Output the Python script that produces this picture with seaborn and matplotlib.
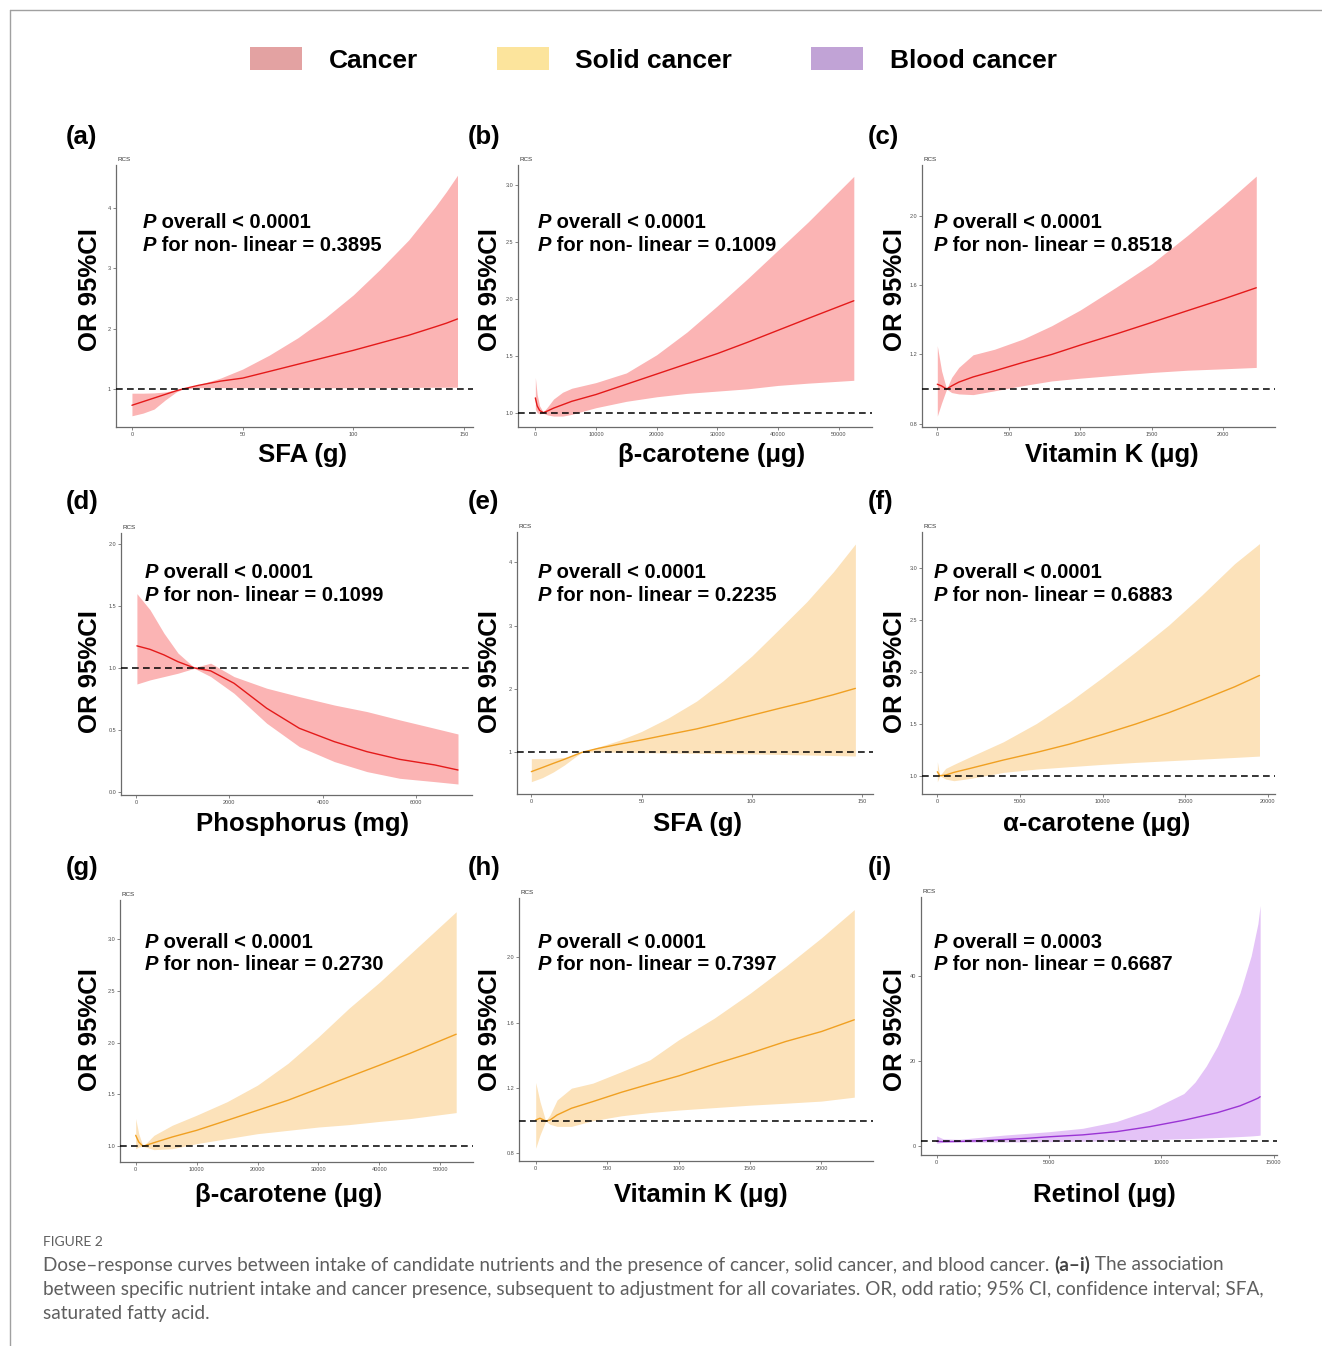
import matplotlib
matplotlib.use("Agg")
import matplotlib.pyplot as plt
from matplotlib.patches import Patch
from matplotlib.lines import Line2D
import seaborn as sns
import pandas as pd

W, H = 1322, 1346

# ---------------- data ----------------
groups = ["Cancer", "Solid cancer", "Blood cancer"]
legend_colors = ["#E3A2A2", "#FCE49C", "#C1A3D6"]
band_colors = ["#FBB4B4", "#FCE2BA", "#E4C3F7"]
line_colors = ["#E41A1A", "#F0A022", "#9A34D4"]

# (a) SFA, cancer
a_x = [0, 5, 10, 15, 20, 23, 30, 40, 50, 62, 75, 87, 100, 112, 125, 137, 142, 147]
a_or = [0.73, 0.79, 0.85, 0.91, 0.97, 1.0, 1.06, 1.13, 1.18, 1.29, 1.41, 1.52, 1.64, 1.76, 1.89, 2.03, 2.09, 2.16]
a_lo = [0.556, 0.60, 0.667, 0.817, 0.95, 1.0, 1.02, 1.022, 1.02, 1.02, 1.02, 1.02, 1.02, 1.022, 1.025, 1.028, 1.029, 1.03]
a_hi = [0.93, 0.93, 0.935, 0.95, 0.985, 1.0, 1.07, 1.18, 1.33, 1.56, 1.85, 2.17, 2.56, 2.98, 3.47, 4.02, 4.27, 4.54]

# (b) beta-carotene, cancer
b_x = [0, 300, 700, 1300, 2000, 3000, 4500, 6000, 8000, 10000, 15000, 20000, 25000, 30000, 35000, 40000, 45000, 52500]
b_or = [1.13, 1.06, 1.02, 1.0, 1.015, 1.04, 1.07, 1.10, 1.13, 1.16, 1.25, 1.34, 1.43, 1.52, 1.62, 1.725, 1.83, 1.985]
b_lo = [1.03, 1.0, 0.99, 0.995, 0.98, 0.97, 0.97, 0.985, 1.015, 1.044, 1.10, 1.14, 1.17, 1.19, 1.21, 1.24, 1.26, 1.285]
b_hi = [1.31, 1.16, 1.06, 1.005, 1.05, 1.12, 1.18, 1.215, 1.24, 1.265, 1.35, 1.51, 1.71, 1.94, 2.18, 2.43, 2.68, 3.08]

# (c) vitamin K, cancer
c_x = [0, 30, 65, 100, 150, 250, 400, 600, 800, 1000, 1250, 1500, 1750, 2000, 2230]
c_or = [1.028, 1.018, 1.0, 1.018, 1.04, 1.07, 1.105, 1.154, 1.20, 1.254, 1.318, 1.385, 1.453, 1.52, 1.585]
c_lo = [0.844, 0.92, 1.0, 0.98, 0.972, 0.968, 0.99, 1.02, 1.047, 1.063, 1.08, 1.096, 1.109, 1.117, 1.125]
c_hi = [1.25, 1.105, 1.0, 1.067, 1.125, 1.198, 1.23, 1.289, 1.366, 1.457, 1.588, 1.724, 1.888, 2.062, 2.23]

# (d) phosphorus, cancer
d_x = [20, 300, 600, 900, 1250, 1600, 2100, 2800, 3500, 4250, 4950, 5650, 6400, 6900]
d_or = [1.178, 1.15, 1.105, 1.05, 1.0, 0.976, 0.876, 0.674, 0.512, 0.404, 0.323, 0.261, 0.216, 0.175]
d_lo = [0.87, 0.903, 0.93, 0.957, 0.997, 0.93, 0.795, 0.553, 0.364, 0.243, 0.162, 0.108, 0.081, 0.062]
d_hi = [1.60, 1.47, 1.28, 1.12, 1.003, 1.038, 0.93, 0.836, 0.768, 0.70, 0.647, 0.58, 0.512, 0.466]

# (e) SFA, solid cancer
e_x = [0, 5, 10, 15, 20, 23, 30, 40, 50, 62, 75, 87, 100, 112, 125, 137, 147]
e_or = [0.695, 0.76, 0.826, 0.89, 0.96, 1.0, 1.06, 1.13, 1.195, 1.28, 1.37, 1.47, 1.585, 1.69, 1.80, 1.91, 2.01]
e_lo = [0.537, 0.60, 0.69, 0.80, 0.93, 1.0, 1.01, 1.0, 0.995, 0.99, 0.985, 0.98, 0.975, 0.968, 0.958, 0.95, 0.942]
e_hi = [0.90, 0.90, 0.905, 0.92, 0.97, 1.0, 1.08, 1.19, 1.33, 1.54, 1.81, 2.13, 2.52, 2.93, 3.38, 3.85, 4.29]

# (f) alpha-carotene, solid cancer
f_x = [0, 150, 500, 1000, 2000, 4000, 6000, 8000, 10000, 12000, 14000, 16000, 18000, 19500]
f_or = [1.038, 1.0, 1.006, 1.032, 1.071, 1.151, 1.224, 1.304, 1.397, 1.497, 1.606, 1.728, 1.856, 1.965]
f_lo = [0.942, 1.0, 0.968, 0.952, 0.974, 1.032, 1.064, 1.087, 1.109, 1.128, 1.144, 1.16, 1.176, 1.189]
f_hi = [1.135, 1.0, 1.07, 1.109, 1.183, 1.327, 1.503, 1.712, 1.946, 2.192, 2.449, 2.737, 3.042, 3.234]

# (g) beta-carotene, solid cancer
g_x = [0, 500, 1200, 3000, 6000, 10000, 15000, 20000, 25000, 30000, 35000, 40000, 45000, 52600]
g_or = [1.106, 1.042, 1.0, 1.035, 1.09, 1.154, 1.25, 1.347, 1.444, 1.556, 1.669, 1.781, 1.895, 2.08]
g_lo = [0.977, 0.994, 1.0, 0.968, 0.977, 1.026, 1.074, 1.122, 1.154, 1.186, 1.209, 1.24, 1.267, 1.325]
g_hi = [1.267, 1.122, 1.0, 1.106, 1.203, 1.30, 1.43, 1.59, 1.80, 2.055, 2.33, 2.58, 2.85, 3.26]

# (h) vitamin K, solid cancer
h_x = [0, 30, 70, 100, 150, 250, 400, 600, 800, 1000, 1250, 1500, 1750, 2000, 2230]
h_or = [1.004, 1.015, 0.998, 1.004, 1.035, 1.076, 1.117, 1.174, 1.225, 1.274, 1.346, 1.413, 1.485, 1.546, 1.618]
h_lo = [0.831, 0.912, 0.998, 0.978, 0.965, 0.965, 1.0, 1.03, 1.05, 1.065, 1.08, 1.095, 1.107, 1.12, 1.144]
h_hi = [1.234, 1.117, 0.998, 1.035, 1.127, 1.199, 1.23, 1.30, 1.373, 1.495, 1.628, 1.78, 1.945, 2.12, 2.293]

# (i) retinol, blood cancer
i_x = [0, 300, 1000, 2000, 3000, 4000, 5000, 6500, 8000, 9500, 11000, 11500, 12000, 12500,
       13000, 13500, 14000, 14300, 14400]
i_or = [1.0, 0.95, 1.0, 1.18, 1.45, 1.73, 2.1, 2.55, 3.3, 4.5, 6.0, 6.6, 7.2, 7.8, 8.6, 9.4, 10.5, 11.2, 11.55]
i_lo = [0.55, 0.8, 0.85, 0.86, 0.88, 0.9, 0.95, 1.05, 1.2, 1.4, 1.65, 1.73, 1.82, 1.92, 2.03, 2.15, 2.3, 2.42, 2.5]
i_hi = [2.3, 1.6, 1.5, 2.0, 2.5, 2.9, 3.3, 4.1, 5.7, 8.4, 12.3, 15.0, 18.8, 23.5, 29.5, 36.0, 44.8, 52.4, 56.7]

letters = ["(a)", "(b)", "(c)", "(d)", "(e)", "(f)", "(g)", "(h)", "(i)"]
panel_group = [0, 0, 0, 0, 1, 1, 1, 1, 2]
xlabels = ["SFA (g)", "β-carotene (μg)", "Vitamin K (μg)", "Phosphorus (mg)", "SFA (g)",
           "α-carotene (μg)", "β-carotene (μg)", "Vitamin K (μg)", "Retinol (μg)"]
p_overall = ["< 0.0001", "< 0.0001", "< 0.0001", "< 0.0001", "< 0.0001",
             "< 0.0001", "< 0.0001", "< 0.0001", "= 0.0003"]
p_nonlin = ["0.3895", "0.1009", "0.8518", "0.1099", "0.2235", "0.6883", "0.2730", "0.7397", "0.6687"]

xticks = [[0, 50, 100, 150], [0, 10000, 20000, 30000, 40000, 50000], [0, 500, 1000, 1500, 2000],
          [0, 2000, 4000, 6000], [0, 50, 100, 150], [0, 5000, 10000, 15000, 20000],
          [0, 10000, 20000, 30000, 40000, 50000], [0, 500, 1000, 1500, 2000], [0, 5000, 10000, 15000]]
yticks = [[1, 2, 3, 4], [1.0, 1.5, 2.0, 2.5, 3.0], [0.8, 1.2, 1.6, 2.0], [0.0, 0.5, 1.0, 1.5, 2.0],
          [1, 2, 3, 4], [1.0, 1.5, 2.0, 2.5, 3.0], [1.0, 1.5, 2.0, 2.5, 3.0], [0.8, 1.2, 1.6, 2.0], [0, 20, 40]]
ytick_labels = [["1", "2", "3", "4"], ["1.0", "1.5", "2.0", "2.5", "3.0"], ["0.8", "1.2", "1.6", "2.0"],
                ["0.0", "0.5", "1.0", "1.5", "2.0"], ["1", "2", "3", "4"], ["1.0", "1.5", "2.0", "2.5", "3.0"],
                ["1.0", "1.5", "2.0", "2.5", "3.0"], ["0.8", "1.2", "1.6", "2.0"], ["0", "20", "40"]]
xlims = [(-7.2, 154), (-2860, 55500), (-107, 2361), (-321, 7200), (-6.5, 155),
         (-929, 20440), (-2574, 55360), (-117, 2361), (-698, 15150)]
ylims = [(0.37, 4.71), (0.874, 3.18), (0.781, 2.294), (-0.027, 2.09), (0.342, 4.48),
         (0.824, 3.346), (0.849, 3.373), (0.753, 2.364), (-2.2, 58.7)]

curves = [(a_x, a_or, a_lo, a_hi), (b_x, b_or, b_lo, b_hi), (c_x, c_or, c_lo, c_hi),
          (d_x, d_or, d_lo, d_hi), (e_x, e_or, e_lo, e_hi), (f_x, f_or, f_lo, f_hi),
          (g_x, g_or, g_lo, g_hi), (h_x, h_or, h_lo, h_hi), (i_x, i_or, i_lo, i_hi)]

# ---------------- layout (pixels) ----------------
ax_rects = [(116, 165, 473, 427), (518, 165, 872, 427), (922, 165, 1275, 427),
            (121, 533, 472, 795), (517, 532, 873, 794), (922, 532, 1275, 794),
            (120, 900, 473, 1162), (519, 898, 873, 1161), (921, 897, 1277, 1155)]
col_left = [66, 468, 868]
row_letter_y = [137, 502, 868]
ylab_x = [90, 490, 895]
row_mid_y = [290, 672, 1030]
ptext_x = [143, 538, 934, 145, 538, 934, 145, 538, 934]
ptext_y = [223, 573, 942]
xlab_pos = [(302, 455), (712, 455), (1112, 455), (303, 824), (697, 824), (1097, 824),
            (289, 1195), (701, 1195), (1104, 1195)]


def fx(px):
    return px / W


def fy(py):
    return 1 - py / H


sns.set_theme(style="white")
plt.rcParams["font.family"] = ["Liberation Sans", "DejaVu Sans"]
plt.rcParams["text.color"] = "black"

fig = plt.figure(figsize=(W / 100, H / 100), dpi=100)

# frame lines of the figure box
fig.add_artist(Line2D([fx(10), 1], [fy(10), fy(10)], color="#a0a0a0", lw=1.0))
fig.add_artist(Line2D([fx(10), fx(10)], [fy(10), 0], color="#a0a0a0", lw=1.0))

for k in range(9):
    l, t, r, b = ax_rects[k]
    ax = fig.add_axes([fx(l), fy(b), (r - l) / W, (b - t) / H])
    g = panel_group[k]
    x, mid, lo, hi = curves[k]
    df = pd.DataFrame({"x": x, "or": mid, "lo": lo, "hi": hi})
    ax.fill_between(df["x"], df["lo"], df["hi"], color=band_colors[g], lw=0, zorder=1)
    sns.lineplot(data=df, x="x", y="or", ax=ax, color=line_colors[g], lw=1.0, zorder=3)
    ax.axhline(1, color="black", lw=1.1, ls=(0, (4.4, 2.8)), zorder=4)

    ax.set_xlim(*xlims[k])
    ax.set_ylim(*ylims[k])
    ax.set_xticks(xticks[k])
    ax.set_xticklabels([str(v) for v in xticks[k]])
    ax.set_yticks(yticks[k])
    ax.set_yticklabels(ytick_labels[k])
    ax.set_xlabel("")
    ax.set_ylabel("")
    ax.tick_params(axis="both", which="major", length=2, width=0.5, color="#555555",
                   labelsize=4, labelcolor="#4d4d4d", pad=1.5, bottom=True, left=True)
    for side in ["top", "right"]:
        ax.spines[side].set_visible(False)
    for side in ["left", "bottom"]:
        ax.spines[side].set_color("#6b6b6b")
        ax.spines[side].set_linewidth(0.9)
    ax.grid(False)
    ax.text(0.005, 1.012, "RCS", transform=ax.transAxes, fontsize=4.5, color="#333333",
            ha="left", va="bottom")

    row, col = divmod(k, 3)
    fig.text(fx(col_left[col]), fy(row_letter_y[row]), letters[k], fontsize=18.5,
             fontweight="bold", ha="left", va="center")
    fig.text(fx(ylab_x[col]), fy(row_mid_y[row]), "OR 95%CI", rotation=90, fontsize=18.5,
             fontweight="bold", ha="center", va="center")
    xl, yl = xlab_pos[k]
    fig.text(fx(xl), fy(yl), xlabels[k], fontsize=18.5, fontweight="bold", ha="center", va="center")

    # P value annotations: italic bold P + bold remainder
    y1 = ptext_y[row]
    for yy, rest in [(y1, " overall " + p_overall[k]), (y1 + 22.5, " for non- linear = " + p_nonlin[k])]:
        tp = fig.text(fx(ptext_x[k]), fy(yy), "P", fontsize=14.5, fontweight="bold",
                      fontstyle="italic", ha="left", va="center")
        ax.annotate(rest, xy=(1, 0), xycoords=tp, ha="left", va="bottom", fontsize=14.5,
                    fontweight="bold", annotation_clip=False)

# legend
handles = [Patch(facecolor=c, edgecolor="none") for c in legend_colors]
leg = fig.legend(handles, groups, loc="center", bbox_to_anchor=(fx(653.5), fy(60)), ncol=3,
                 frameon=False, handlelength=1.97, handleheight=0.95, handletextpad=1.0,
                 columnspacing=3.0, borderpad=0, prop={"weight": "bold", "size": 19})

# caption
cap_color = "#5f5f5f"
cap_font = ["Lato", "DejaVu Sans"]
fig.text(fx(43), fy(1242), "FIGURE 2", fontsize=10, color=cap_color, family=cap_font,
         ha="left", va="center")
cap_size = 13.7
t1 = fig.text(fx(43), fy(1265), "Dose\u2013response curves between intake of candidate nutrients and the presence "
              "of cancer, solid cancer, and blood cancer. ", fontsize=cap_size, color=cap_color,
              family=cap_font, ha="left", va="center")
t2 = fig.axes[0].annotate("(a\u2013i)", xy=(1, 0), xycoords=t1, ha="left", va="bottom", fontsize=cap_size,
                          color="#444444", fontweight="bold", family=cap_font, annotation_clip=False)
fig.axes[0].annotate(" The association", xy=(1, 0), xycoords=t2, ha="left", va="bottom",
                     fontsize=cap_size, color=cap_color, family=cap_font, annotation_clip=False)
fig.text(fx(43), fy(1289), "between specific nutrient intake and cancer presence, subsequent to adjustment for "
         "all covariates. OR, odd ratio; 95% CI, confidence interval; SFA,", fontsize=cap_size,
         color=cap_color, family=cap_font, ha="left", va="center")
fig.text(fx(43), fy(1313), "saturated fatty acid.", fontsize=cap_size, color=cap_color,
         family=cap_font, ha="left", va="center")

fig.savefig("out.png", dpi=100)
